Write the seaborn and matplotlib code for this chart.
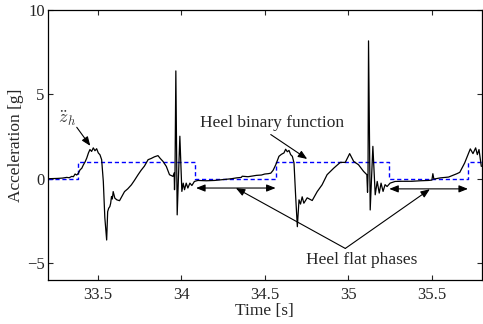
import numpy as np
import pandas as pd
import matplotlib
matplotlib.use("Agg")
import matplotlib.pyplot as plt
import seaborn as sns

# ---- data ----
time_s = [33.20, 33.23, 33.26, 33.29, 33.315, 33.33, 33.345, 33.355, 33.365, 33.375,
          33.385, 33.395, 33.405, 33.415, 33.425, 33.435, 33.445, 33.454, 33.464, 33.474,
          33.484, 33.494, 33.504, 33.514, 33.524, 33.534, 33.543, 33.554, 33.560, 33.566,
          33.573, 33.578, 33.583, 33.588, 33.593, 33.603, 33.615, 33.631, 33.645, 33.661,
          33.680, 33.702, 33.720, 33.742, 33.760, 33.780, 33.802, 33.820, 33.840, 33.861,
          33.875, 33.891, 33.911, 33.930, 33.951, 33.958, 33.960, 33.963, 33.968, 33.976,
          33.992, 34.004, 34.012, 34.020, 34.030, 34.040, 34.052, 34.064, 34.079, 34.100,
          34.150, 34.200, 34.250, 34.300, 34.330, 34.360, 34.365, 34.400, 34.450, 34.480,
          34.500, 34.520, 34.536, 34.550, 34.566, 34.585, 34.600, 34.615, 34.625, 34.635,
          34.645, 34.655, 34.665, 34.675, 34.685, 34.695, 34.705, 34.714, 34.724, 34.734,
          34.754, 34.784, 34.814, 34.843, 34.873, 34.913, 34.952, 34.982, 35.008, 35.032,
          35.061, 35.091, 35.111, 35.115, 35.118, 35.121, 35.131, 35.147, 35.161, 35.173,
          35.185, 35.196, 35.208, 35.220, 35.232, 35.250, 35.280, 35.320, 35.380, 35.430,
          35.480, 35.500, 35.506, 35.512, 35.550, 35.600, 35.625, 35.650, 35.667, 35.696,
          35.716, 35.730, 35.746, 35.762, 35.772, 35.782, 35.796]
accel_g = [0.00, 0.01, 0.02, 0.04, 0.08, 0.06, 0.14, 0.12, 0.28, 0.22,
           0.33, 0.53, 0.62, 0.83, 1.00, 1.23, 1.53, 1.73, 1.62, 1.83,
           1.66, 1.78, 1.53, 1.42, 1.13, -0.16, -2.30, -3.63, -1.95, -1.75,
           -1.65, -1.45, -1.05, -1.20, -0.76, -1.15, -1.25, -1.30, -1.05, -0.76,
           -0.60, -0.36, -0.10, 0.24, 0.50, 0.75, 1.13, 1.20, 1.30, 1.37,
           1.20, 1.03, 0.73, 0.24, 0.14, 0.35, -0.65, 0.30, 6.39, -2.14,
           2.52, -0.75, -0.26, -0.65, -0.26, -0.55, -0.26, -0.40, -0.16, -0.10,
           -0.12, -0.10, -0.05, 0.00, 0.05, 0.08, 0.15, 0.12, 0.20, 0.22,
           0.28, 0.30, 0.33, 0.50, 0.83, 1.33, 1.45, 1.53, 1.75, 1.60,
           1.68, 1.43, 1.33, 0.94, -1.05, -2.84, -1.25, -1.50, -1.07, -1.45,
           -1.13, -1.29, -0.76, -0.36, 0.24, 0.63, 0.97, 0.97, 1.49, 1.03,
           0.83, 0.44, 0.24, -0.80, 0.30, 8.17, -1.85, 1.92, -0.95, -0.16,
           -0.85, -0.26, -0.75, -0.35, -0.46, -0.26, -0.16, -0.15, -0.15, -0.12,
           -0.10, -0.08, 0.30, -0.02, 0.05, 0.10, 0.20, 0.30, 0.38, 0.93,
           1.43, 1.77, 1.49, 1.83, 1.43, 1.73, 0.73]

binary_t = [33.20, 33.385, 34.085, 34.57, 35.245, 35.715, 35.80]
binary_v = [0, 1, 0, 1, 0, 1, 1]

flat_phase_start = [34.089, 35.245]
flat_phase_end = [34.565, 35.716]
flat_phase_y = [-0.55, -0.60]

x_ticks = [33.5, 34, 34.5, 35, 35.5]
x_ticklabels = ["33.5", "34", "34.5", "35", "35.5"]
y_ticks = [-5, 0, 5, 10]
y_ticklabels = ["\u22125", "0", "5", "10"]

# ---- style ----
sns.set_theme(style="ticks")
plt.rcParams.update({
    "font.family": ["Liberation Serif", "DejaVu Serif"],
    "mathtext.fontset": "cm",
    "axes.linewidth": 0.9,
    "xtick.direction": "in", "ytick.direction": "in",
    "xtick.top": True, "ytick.right": True,
    "xtick.major.size": 3.5, "ytick.major.size": 3.5,
    "xtick.major.width": 0.8, "ytick.major.width": 0.8,
    "axes.edgecolor": "black",
})

fig = plt.figure(figsize=(4.83, 3.24), dpi=100)
ax = fig.add_axes([47.5 / 483, 1 - 280 / 324, (482 - 47.5) / 483, (280 - 10) / 324])

sig = pd.DataFrame({"t": time_s, "a": accel_g})
binf = pd.DataFrame({"t": binary_t, "v": binary_v})

sns.lineplot(data=binf, x="t", y="v", ax=ax, color="#0000ff", lw=1.0,
             drawstyle="steps-post", dashes=False, sort=False, estimator=None)
ax.lines[-1].set_dashes([3, 2])
sns.lineplot(data=sig, x="t", y="a", ax=ax, color="black", lw=0.9,
             sort=False, estimator=None)

ax.set_xlim(33.2, 35.8)
ax.set_ylim(-6, 10)
ax.set_xticks(x_ticks)
ax.set_xticklabels(x_ticklabels)
ax.set_yticks(y_ticks)
ax.set_yticklabels(y_ticklabels)
ax.tick_params(axis="x", labelsize=12, pad=5)
ax.tick_params(axis="y", labelsize=12, pad=2)
ax.set_xlabel("Time [s]", fontsize=12.5, labelpad=0)
ax.set_ylabel("Acceleration [g]", fontsize=12.5, labelpad=2)

arrow_kw = dict(arrowstyle="-|>,head_length=0.45,head_width=0.18", color="black", lw=0.8,
                shrinkA=0, shrinkB=0)
dbl_kw = dict(arrowstyle="<|-|>,head_length=0.45,head_width=0.18", color="black", lw=0.8,
              shrinkA=0, shrinkB=0)

for xs, xe, yy in zip(flat_phase_start, flat_phase_end, flat_phase_y):
    ax.annotate("", xy=(xe, yy), xytext=(xs, yy), arrowprops=dbl_kw)

ax.text(33.32, 3.55, r"$\ddot{z}_h$", fontsize=13, ha="center", va="center", color="#333333")
ax.annotate("", xy=(33.456, 1.95), xytext=(33.375, 3.05), arrowprops=arrow_kw)

ax.text(34.545, 3.33, "Heel binary function", fontsize=12.5, ha="center", va="center")
ax.annotate("", xy=(34.754, 1.17), xytext=(34.536, 2.62), arrowprops=arrow_kw)

ax.text(35.083, -4.82, "Heel flat phases", fontsize=12.5, ha="center", va="center")
ax.annotate("", xy=(34.327, -0.55), xytext=(34.982, -4.13), arrowprops=arrow_kw)
ax.annotate("", xy=(35.488, -0.62), xytext=(34.982, -4.13), arrowprops=arrow_kw)

fig.savefig("out.png", dpi=100)
